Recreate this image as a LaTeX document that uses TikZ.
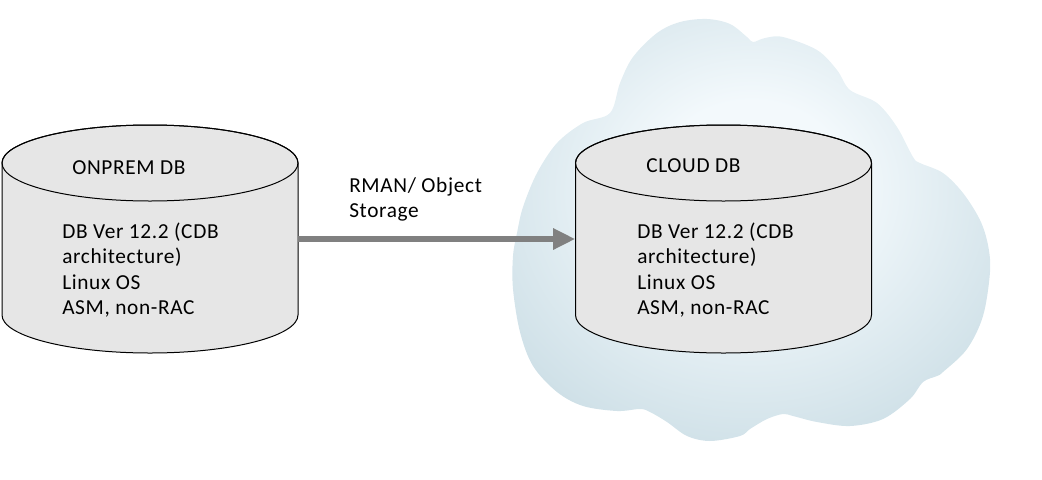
\documentclass[tikz,border=0pt]{standalone}
\usepackage{fontspec}
\setmainfont{Carlito}
\usetikzlibrary{arrows.meta}
\definecolor{dbfill}{RGB}{230,230,230}
\definecolor{cloudc}{RGB}{243,249,252}
\definecolor{cloudm}{RGB}{208,225,232}
\definecolor{cloude}{RGB}{160,188,199}
\definecolor{arrowgray}{RGB}{128,128,128}
\pgfdeclareradialshading{cloudshade}{\pgfpoint{0bp}{6bp}}{color(0bp)=(cloudc); color(10bp)=(cloudc); color(30bp)=(cloudm); color(47bp)=(cloude); color(80bp)=(cloude)}
\newcommand\dbfont{\fontsize{16pt}{19pt}\selectfont\addfontfeature{LetterSpace=3}}
\begin{document}
\begin{tikzpicture}[x=0.75pt,y=-0.75pt,
  dbarea/.style={rectangle, minimum width=222pt, minimum height=171pt, inner sep=0pt},
  dbbody/.style={fill=dbfill, draw=black, line width=0.75pt},
  dbtext/.style={anchor=base west, inner sep=0pt, font=\dbfont, text=black},
  flow/.style={draw=arrowgray, line width=4.5pt, -{Triangle[length=16.5pt,width=15pt]}}]
\useasboundingbox (0,0) rectangle (1042,479);
\shade[shading=cloudshade] plot[smooth cycle, tension=0.55] coordinates {
(610,113) (620,83) (633,57) (657,33) (680,22) (707,19) (730,24) (747,37) (753,42)
(765,38) (783,37) (817,50) (837,70) (850,90) (877,103) (897,127) (913,157) (920,163)
(943,173) (963,193) (980,220) (988,245) (990,272) (983,316) (967,349) (943,372) (937,376)
(923,382) (910,399) (883,419) (850,426) (817,422) (793,416) (783,414) (767,419) (750,429)
(740,436) (710,441) (687,436) (667,422) (650,412) (640,409) (617,411) (583,406) (557,392)
(533,366) (520,332) (513,289) (513,256) (517,233) (523,207) (537,173) (557,143) (583,123)};
% database cylinders
\node[dbarea] (onprem) at (150,239) {};
\node[dbarea] (cloud) at (723.5,239) {};
\foreach \cx in {150,723.5}{
  \path[dbbody] (\cx-148,163) -- (\cx-148,315)
    arc[start angle=180, end angle=360, x radius=111pt, y radius=28.5pt]
    -- (\cx+148,163)
    arc[start angle=0, end angle=180, x radius=111pt, y radius=28.5pt] -- cycle;
  \draw[line width=0.75pt] (\cx,163) ellipse[x radius=111pt, y radius=28.5pt];
}
\node[dbtext] (onpremtitle) at (72,174) {ONPREM DB};
\node[dbtext] (onpremA) at (62,238.3) {DB Ver 12.2 (CDB};
\node[dbtext] (onpremB) at (62,263.8) {architecture)};
\node[dbtext] (onpremC) at (62,289.3) {Linux OS};
\node[dbtext] (onpremD) at (62,314.8) {ASM, non-RAC};
\node[dbtext] (cloudtitle) at (646,172.7) {CLOUD DB};
\node[dbtext] (cloudA) at (637,238.3) {DB Ver 12.2 (CDB};
\node[dbtext] (cloudB) at (637,263.8) {architecture)};
\node[dbtext] (cloudC) at (637,289.3) {Linux OS};
\node[dbtext] (cloudD) at (637,314.8) {ASM, non-RAC};
\node[dbtext] (labelA) at (349,192) {RMAN/ Object};
\node[dbtext] (labelB) at (349,217) {Storage};
\draw[flow] (onprem.east) -- (cloud.west);
\end{tikzpicture}
\end{document}
